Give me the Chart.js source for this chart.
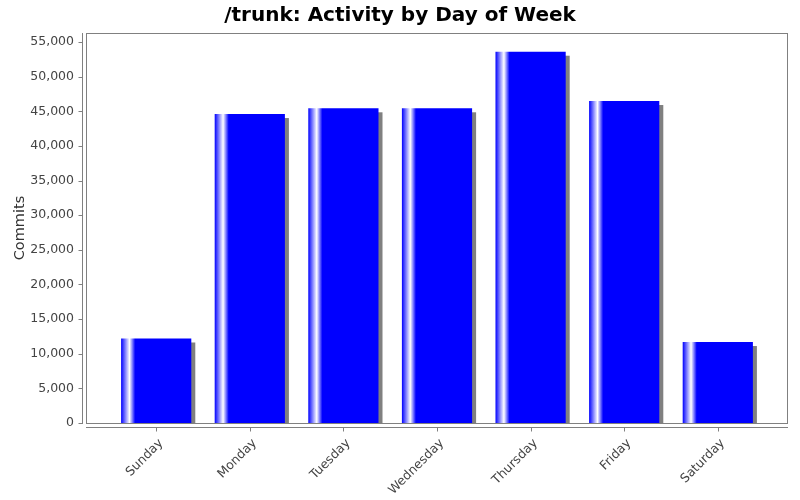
<!DOCTYPE html>
<html>
<head>
<meta charset="utf-8">
<script src="https://cdn.jsdelivr.net/npm/chart.js@4/dist/chart.umd.min.js"></script>
<style>
  html, body { margin: 0; padding: 0; background: #fff; }
  #wrap { width: 800px; height: 500px; }
</style>
</head>
<body>
<div id="wrap"><canvas id="chart"></canvas></div>
<script>
const days = ['Sunday', 'Monday', 'Tuesday', 'Wednesday', 'Thursday', 'Friday', 'Saturday'];
const commits = [12200, 44600, 45430, 45430, 53600, 46480, 11690];
const yTicks = [0, 5000, 10000, 15000, 20000, 25000, 30000, 35000, 40000, 45000, 50000, 55000];
const chartTitle = '/trunk: Activity by Day of Week';

const BLUE = '#0000ff';
const GREY = '#808080';

// blue -> white -> blue stripe near the left edge of each bar
function barPaint(context) {
  const chart = context.chart;
  const xs = chart.scales.x;
  if (!chart.chartArea || !xs || context.dataIndex === undefined) return BLUE;
  const w = (xs.getPixelForValue(1) - xs.getPixelForValue(0)) * 0.75;
  const left = xs.getPixelForValue(context.dataIndex) - w / 2;
  const g = chart.ctx.createLinearGradient(left, 0, left + w, 0);
  g.addColorStop(0, BLUE);
  g.addColorStop(0.12, '#ffffff');
  g.addColorStop(0.2, BLUE);
  g.addColorStop(1, BLUE);
  return g;
}

const framePlugin = {
  id: 'frame',
  beforeDatasetsDraw(chart) {
    const { ctx, chartArea: a } = chart;
    // bar shadows
    ctx.save();
    ctx.beginPath();
    ctx.rect(a.left, a.top, a.right - a.left, a.bottom - a.top);
    ctx.clip();
    ctx.fillStyle = GREY;
    chart.getDatasetMeta(0).data.forEach(bar => {
      const w = bar.width;
      ctx.fillRect(bar.x - w / 2 + 4, bar.y + 4, w, bar.base - bar.y);
    });
    ctx.restore();
  },
  afterDraw(chart) {
    const { ctx, chartArea: a, scales } = chart;
    ctx.save();
    // title, centred on the whole canvas
    ctx.fillStyle = '#000';
    ctx.font = 'bold 20px "DejaVu Sans"';
    ctx.textAlign = 'center';
    ctx.textBaseline = 'alphabetic';
    ctx.fillText(chartTitle, chart.width / 2, 21);

    ctx.strokeStyle = GREY;
    ctx.lineWidth = 1;
    // plot outline
    ctx.strokeRect(Math.round(a.left) + 0.5, Math.round(a.top) + 0.5,
      Math.round(a.right - a.left) - 1, Math.round(a.bottom - a.top));
    // y axis line + ticks (offset 4px)
    const ax = Math.round(a.left) - 4 + 0.5;
    ctx.beginPath();
    ctx.moveTo(ax, a.top);
    ctx.lineTo(ax, a.bottom + 1);
    yTicks.forEach(v => {
      const y = Math.round(scales.y.getPixelForValue(v)) + 0.5;
      ctx.moveTo(ax - 4, y);
      ctx.lineTo(ax, y);
    });
    // x axis line + ticks (offset 4px)
    const ay = Math.round(a.bottom) + 4 + 0.5;
    ctx.moveTo(a.left, ay);
    ctx.lineTo(a.right, ay);
    days.forEach((d, i) => {
      const x = Math.round(scales.x.getPixelForValue(i)) + 0.5;
      ctx.moveTo(x, ay);
      ctx.lineTo(x, ay + 4);
    });
    ctx.stroke();
    ctx.restore();
  }
};

new Chart(document.getElementById('chart'), {
  type: 'bar',
  data: {
    datasets: [{
      label: 'Commits',
      data: commits.map((v, i) => ({ x: i, y: v })),
      backgroundColor: barPaint,
      borderWidth: 0,
      barPercentage: 0.75,
      categoryPercentage: 1
    }]
  },
  options: {
    responsive: true,
    maintainAspectRatio: false,
    animation: false,
    layout: { padding: { left: 0, right: 12, top: 33, bottom: 0 } },
    plugins: {
      legend: { display: false },
      tooltip: { enabled: false },
      title: { display: false }
    },
    scales: {
      x: {
        type: 'linear',
        min: -0.75,
        max: 6.75,
        offset: false,
        grid: { display: false, drawTicks: false },
        border: { display: false },
        afterBuildTicks: s => { s.ticks = days.map((d, i) => ({ value: i })); },
        afterFit: s => { s.height = 77; },
        ticks: {
          autoSkip: false,
          minRotation: 45,
          maxRotation: 45,
          padding: 13,
          labelOffset: 5,
          color: '#444',
          font: { family: 'DejaVu Sans', size: 12.5 },
          callback: v => days[v]
        }
      },
      y: {
        min: 0,
        max: 56300,
        grid: { display: false, drawTicks: false },
        border: { display: false },
        afterBuildTicks: s => { s.ticks = yTicks.map(v => ({ value: v })); },
        afterFit: s => { s.width = 86; },
        title: {
          display: true,
          text: 'Commits',
          color: '#333',
          font: { family: 'DejaVu Sans', size: 14.5 },
          padding: { top: 12, bottom: 0 }
        },
        ticks: {
          padding: 12,
          color: '#444',
          font: { family: 'DejaVu Sans', size: 12.5 },
          callback: v => v.toLocaleString('en-US')
        }
      }
    }
  },
  plugins: [framePlugin]
});
</script>
</body>
</html>
